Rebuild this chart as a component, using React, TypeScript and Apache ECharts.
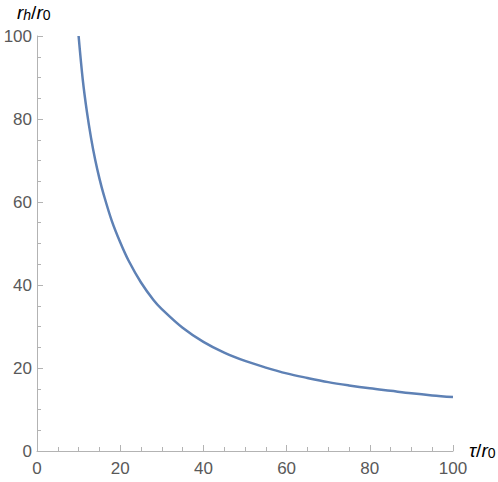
import React, { useEffect, useRef } from "react";
import * as echarts from "echarts";

const tauValues = [10, 11, 12, 13, 14, 15, 16, 18, 20, 22, 25, 28, 30, 35, 40, 45, 50, 55, 60, 65, 70, 75, 80, 85, 90, 95, 100];
const rhValues = [100, 89.5, 81.7, 75.4, 70.1, 65.7, 61.9, 55.4, 50.3, 45.9, 40.6, 36.4, 34.2, 29.7, 26.3, 23.7, 21.7, 20.1, 18.7, 17.6, 16.6, 15.8, 15.1, 14.5, 13.9, 13.4, 13.0];
const xTicks = [0, 20, 40, 60, 80, 100];
const yTicks = [0, 20, 40, 60, 80, 100];

const FONT = "'Liberation Sans', Arial, sans-serif";
const AXIS_COLOR = "#b3b3b3";
const LABEL_COLOR = "#595959";

export default function App() {
  const ref = useRef<HTMLDivElement>(null);
  useEffect(() => {
    if (!ref.current) return;
    const chart = echarts.init(ref.current, undefined, { renderer: "svg" });
    const axisCommon = {
      type: "value" as const,
      min: xTicks[0],
      max: xTicks[xTicks.length - 1],
      interval: 20,
      axisLine: { show: true, onZero: false, lineStyle: { color: AXIS_COLOR, width: 1 } },
      axisTick: { show: true, inside: true, length: 6, lineStyle: { color: AXIS_COLOR } },
      minorTick: { show: true, splitNumber: 4, length: 4, lineStyle: { color: AXIS_COLOR } },
      splitLine: { show: false },
      axisLabel: { color: LABEL_COLOR, fontSize: 17, fontFamily: FONT, showMinLabel: true, showMaxLabel: true },
    };
    const rich = {
      i: { fontFamily: FONT, fontStyle: "italic", fontSize: 19, color: LABEL_COLOR, lineHeight: 24, verticalAlign: "bottom" },
      n: { fontFamily: FONT, fontSize: 19, color: LABEL_COLOR, lineHeight: 24, verticalAlign: "bottom" },
      s: { fontFamily: FONT, fontStyle: "italic", fontSize: 14, color: LABEL_COLOR, lineHeight: 19, verticalAlign: "bottom" },
      z: { fontFamily: FONT, fontSize: 14, color: LABEL_COLOR, lineHeight: 19, verticalAlign: "bottom" },
    };
    chart.setOption({
      animation: false,
      backgroundColor: "#ffffff",
      grid: { left: 37, right: 45, top: 36, bottom: 31, containLabel: false },
      xAxis: { ...axisCommon, axisLabel: { ...axisCommon.axisLabel, margin: 9 } },
      yAxis: {
        ...axisCommon,
        min: yTicks[0],
        max: yTicks[yTicks.length - 1],
        axisLabel: { ...axisCommon.axisLabel, margin: 5 },
      },
      graphic: [
        {
          type: "text",
          left: 17,
          top: 3,
          style: { text: "{i|r}{s|h}{n|/}{i|r}{z|0}", rich },
        },
        {
          type: "text",
          left: 469,
          top: 441,
          style: { text: "{i|τ}{n|/}{i|r}{z|0}", rich },
        },
      ],
      series: [
        {
          type: "line",
          data: tauValues.map((t, i) => [t, rhValues[i]]),
          smooth: 0.35,
          showSymbol: false,
          lineStyle: { color: "#5E81B5", width: 2.5 },
          clip: true,
        },
      ],
    });
    return () => chart.dispose();
  }, []);
  return <div ref={ref} style={{ width: 498, height: 482, position: "absolute", left: 0, top: 0 }} />;
}
